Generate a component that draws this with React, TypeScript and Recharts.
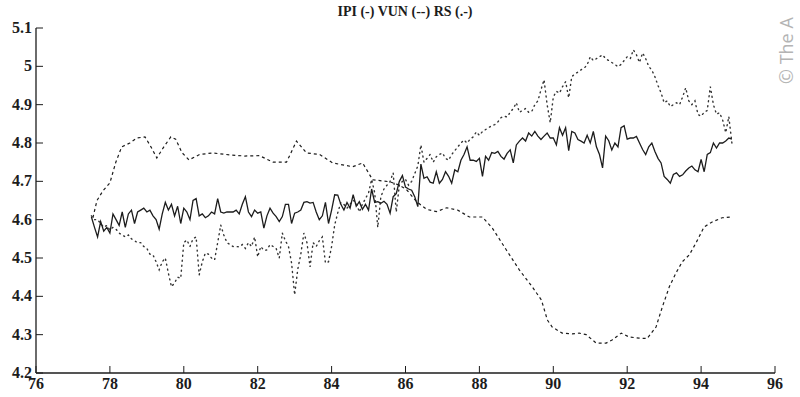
import React from 'react';
import { LineChart, Line, XAxis, YAxis } from 'recharts';

// IPI, monthly from 77.5
const ipiStart = 77.5;
const ipi = [
  4.607, 4.58, 4.555, 4.595, 4.57, 4.58, 4.565, 4.615, 4.6, 4.585, 4.62, 4.58,
  4.615, 4.625, 4.59, 4.62, 4.625, 4.63, 4.62, 4.625, 4.61, 4.6, 4.575, 4.615,
  4.645, 4.625, 4.64, 4.61, 4.635, 4.59, 4.63, 4.62, 4.6, 4.65, 4.655, 4.61,
  4.615, 4.605, 4.61, 4.62, 4.615, 4.655, 4.62, 4.617, 4.62, 4.62, 4.62, 4.625,
  4.615, 4.64, 4.66, 4.62, 4.608, 4.625, 4.617, 4.62, 4.578, 4.61, 4.63, 4.617,
  4.608, 4.595, 4.608, 4.64, 4.64, 4.59, 4.617, 4.62, 4.625, 4.645, 4.647, 4.643,
  4.645, 4.62, 4.6, 4.61, 4.645, 4.59, 4.625, 4.665, 4.664, 4.64, 4.625, 4.645,
  4.63, 4.665, 4.635, 4.647, 4.627, 4.64, 4.625, 4.68, 4.645, 4.647, 4.643, 4.648,
  4.64, 4.617, 4.66, 4.668, 4.7, 4.715, 4.685, 4.68, 4.677, 4.66, 4.634, 4.745,
  4.708, 4.712, 4.698, 4.695, 4.725, 4.695, 4.705, 4.725, 4.713, 4.695, 4.73, 4.725,
  4.755, 4.77, 4.79, 4.755, 4.755, 4.752, 4.76, 4.713, 4.765, 4.755, 4.775, 4.773,
  4.778, 4.765, 4.758, 4.773, 4.782, 4.748, 4.795, 4.805, 4.813, 4.805, 4.826, 4.818,
  4.83, 4.818, 4.809, 4.818, 4.826, 4.813, 4.813, 4.795, 4.84, 4.82, 4.84, 4.78,
  4.83, 4.826, 4.809, 4.805, 4.8, 4.82, 4.8, 4.83, 4.79, 4.77, 4.735, 4.818,
  4.806, 4.782, 4.8, 4.79, 4.84, 4.845, 4.81, 4.813, 4.813, 4.817, 4.8, 4.783,
  4.77, 4.79, 4.8, 4.778, 4.76, 4.748, 4.713, 4.705, 4.695, 4.718, 4.722, 4.713,
  4.717, 4.727, 4.735, 4.74, 4.73, 4.725, 4.757, 4.725, 4.77, 4.775, 4.8, 4.787,
  4.8, 4.8, 4.805, 4.813, 4.81,
];

// RS, same months
const rs = [
  4.61, 4.6, 4.6, 4.59, 4.58, 4.585, 4.573, 4.58, 4.575, 4.565, 4.56, 4.555,
  4.56, 4.55, 4.545, 4.54, 4.54, 4.53, 4.525, 4.51, 4.508, 4.49, 4.469, 4.49,
  4.5, 4.46, 4.425, 4.435, 4.45, 4.447, 4.54, 4.547, 4.53, 4.55, 4.555, 4.456,
  4.49, 4.513, 4.51, 4.5, 4.495, 4.54, 4.586, 4.56, 4.54, 4.535, 4.53, 4.53,
  4.529, 4.535, 4.525, 4.54, 4.53, 4.555, 4.503, 4.53, 4.52, 4.521, 4.535, 4.53,
  4.525, 4.5, 4.565, 4.545, 4.53, 4.487, 4.404, 4.47, 4.51, 4.565, 4.54, 4.477,
  4.54, 4.53, 4.545, 4.555, 4.487, 4.49, 4.53, 4.586, 4.618, 4.645, 4.64, 4.63,
  4.64, 4.65, 4.645, 4.62, 4.64, 4.655, 4.67, 4.705, 4.67, 4.58, 4.66, 4.68,
  4.69, 4.7, 4.722, 4.62, 4.69, 4.7, 4.705, 4.69, 4.7, 4.72, 4.74, 4.795,
  4.75, 4.76, 4.77, 4.75, 4.764, 4.77, 4.774, 4.76, 4.755, 4.77, 4.78, 4.79,
  4.8, 4.808, 4.8, 4.81, 4.816, 4.829, 4.82, 4.83, 4.835, 4.84, 4.845, 4.848,
  4.855, 4.866, 4.87, 4.868, 4.88, 4.89, 4.905, 4.88, 4.885, 4.89, 4.88, 4.882,
  4.9, 4.91, 4.939, 4.965, 4.9, 4.853, 4.92, 4.935, 4.93, 4.947, 4.96, 4.918,
  4.973, 4.98, 4.985, 4.991, 4.995, 5.004, 5.025, 5.015, 5.02, 5.025, 5.03, 5.02,
  5.015, 5.01, 5.005, 4.999, 5.005, 5.015, 5.025, 5.02, 5.043, 5.03, 5.01, 5.035,
  5.02, 5.0, 4.99, 4.973, 4.95, 4.931, 4.905, 4.91, 4.895, 4.9, 4.905, 4.9,
  4.92, 4.944, 4.91, 4.9, 4.91, 4.874, 4.87, 4.88, 4.885, 4.947, 4.9, 4.875,
  4.879, 4.86, 4.827, 4.869, 4.8,
];

// VUN, read at its own (smooth) points
const vunYears = [
  77.54, 77.65, 77.81, 78.0, 78.16, 78.32, 78.54, 78.73, 78.95, 79.11, 79.27, 79.46,
  79.65, 79.78, 79.95, 80.14, 80.43, 80.78, 81.24, 81.65, 82.05, 82.41, 82.78, 83.05,
  83.32, 83.68, 84.03, 84.57, 84.84, 85.11, 85.57, 85.84, 86.03, 86.3, 86.57, 86.84,
  87.11, 87.41, 87.73, 88.08, 88.35, 88.73, 89.08, 89.43, 89.68, 89.84, 89.97, 90.24,
  90.51, 90.7, 90.89, 91.16, 91.43, 91.59, 91.84, 92.05, 92.32, 92.54, 92.78, 92.95,
  93.14, 93.32, 93.49, 93.68, 93.86, 94.08, 94.3, 94.57, 94.81,
];
const vun = [
  4.605, 4.65, 4.675, 4.696, 4.75, 4.79, 4.8, 4.813, 4.816, 4.79, 4.761, 4.79,
  4.816, 4.81, 4.775, 4.756, 4.77, 4.774, 4.769, 4.766, 4.767, 4.75, 4.75, 4.805,
  4.774, 4.77, 4.748, 4.738, 4.748, 4.704, 4.699, 4.69, 4.678, 4.647, 4.627, 4.621,
  4.631, 4.625, 4.607, 4.607, 4.578, 4.521, 4.469, 4.425, 4.39, 4.338, 4.32, 4.304,
  4.302, 4.304, 4.3, 4.278, 4.278, 4.286, 4.304, 4.294, 4.291, 4.29, 4.32, 4.372,
  4.425, 4.461, 4.49, 4.508, 4.539, 4.581, 4.594, 4.605, 4.607,
];

const xTicks = [76, 78, 80, 82, 84, 86, 88, 90, 92, 94, 96];
const yTicks = [4.2, 4.3, 4.4, 4.5, 4.6, 4.7, 4.8, 4.9, 5.0, 5.1];

const monthly = ipi.map((v, i) => ({ t: ipiStart + i / 12, ipi: v, rs: rs[i] }));
const vunData = vun.map((v, i) => ({ t: vunYears[i], vun: v }));

const ink = '#1c1c1c';
const serif = 'Liberation Serif, DejaVu Serif, serif';

const XTick = (props: any) => {
  const { x, y, payload } = props;
  return (
    <g>
      <line x1={x} y1={y} x2={x} y2={y - 7} stroke={ink} strokeWidth={1} />
      <text x={x} y={y + 16} textAnchor="middle" fontFamily={serif} fontSize={16} fontWeight="bold" fill={ink}>
        {payload.value}
      </text>
    </g>
  );
};

const YTick = (props: any) => {
  const { x, y, payload } = props;
  return (
    <g>
      <line x1={x} y1={y} x2={x + 7} y2={y} stroke={ink} strokeWidth={1} />
      <text x={x - 4} y={y + 5} textAnchor="end" fontFamily={serif} fontSize={16} fontWeight="bold" fill={ink}>
        {String(Number(payload.value.toFixed(1)))}
      </text>
    </g>
  );
};

export default function App() {
  return (
    <div style={{ position: 'absolute', left: 0, top: 0, width: 800, height: 397, background: '#fff', overflow: 'hidden' }}>
      <div
        style={{
          position: 'absolute', left: 0, width: 810, top: 4, textAlign: 'center',
          fontFamily: serif, fontWeight: 'bold', fontSize: 14, color: ink,
        }}
      >
        IPI (-) VUN (--) RS (.-)
      </div>
      <div
        style={{
          position: 'absolute', left: 776, top: 84, transformOrigin: '0 0', transform: 'rotate(-90deg)',
          fontFamily: 'Open Sans, sans-serif', fontSize: 18, lineHeight: '20px', color: '#b4b4b4', whiteSpace: 'nowrap',
        }}
      >
        © The A
      </div>
      <LineChart width={800} height={397} data={monthly} margin={{ top: 28, right: 25, bottom: 0, left: 0 }}>
        <XAxis
          dataKey="t" type="number" domain={[76, 96]} ticks={xTicks} allowDataOverflow
          height={24} tickSize={0} tickMargin={0} tickLine={false} tick={<XTick />}
          axisLine={{ stroke: ink, strokeWidth: 1.3 }}
        />
        <XAxis
          xAxisId="top" orientation="top" type="number" domain={[76, 96]} ticks={xTicks} allowDataOverflow
          height={0} mirror tick={false} tickSize={7} tickLine={{ stroke: ink }}
          axisLine={{ stroke: ink, strokeWidth: 1.3 }}
        />
        <YAxis
          type="number" domain={[4.2, 5.1]} ticks={yTicks} allowDataOverflow
          width={36} tickSize={0} tickMargin={0} tickLine={false} tick={<YTick />}
          axisLine={{ stroke: ink, strokeWidth: 1.3 }}
        />
        <YAxis
          yAxisId="right" orientation="right" type="number" domain={[4.2, 5.1]} ticks={yTicks} allowDataOverflow
          width={0} mirror tick={false} tickSize={7} tickLine={{ stroke: ink }}
          axisLine={{ stroke: ink, strokeWidth: 1.3 }}
        />
        <Line
          dataKey="rs" stroke="#333" strokeWidth={1.4} strokeDasharray="1 4" strokeLinecap="round"
          dot={false} isAnimationActive={false} type="linear"
        />
        <Line
          data={vunData} dataKey="vun" stroke={ink} strokeWidth={1.2} strokeDasharray="3 3"
          dot={false} isAnimationActive={false} type="linear"
        />
        <Line
          dataKey="ipi" stroke={ink} strokeWidth={1.3} dot={false} isAnimationActive={false} type="linear"
        />
      </LineChart>
    </div>
  );
}
